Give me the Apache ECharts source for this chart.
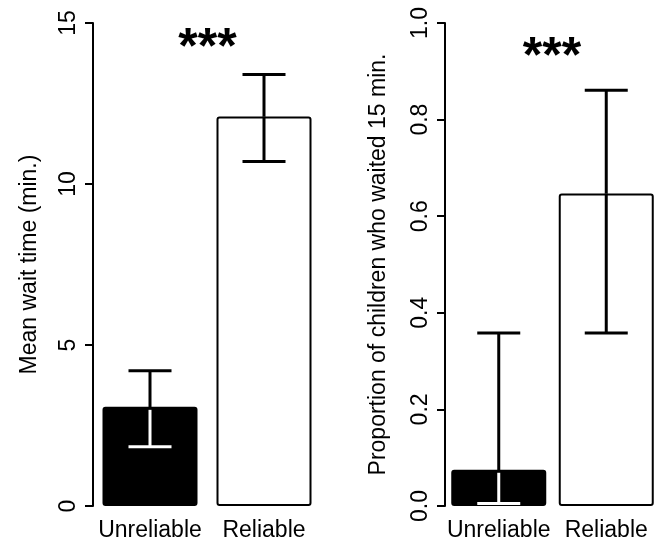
<!DOCTYPE html>
<html>
<head>
<meta charset="utf-8">
<script src="https://cdn.jsdelivr.net/npm/echarts@6/dist/echarts.min.js"></script>
<style>
html,body{margin:0;padding:0;background:#fff;}
#chart{width:655px;height:541px;}
</style>
</head>
<body>
<div id="chart"></div>
<script>
// ---- data ----
const categories = ['Unreliable', 'Reliable'];
const waitMeans = [3.08, 12.1];
const waitLow = [1.84, 10.7];
const waitHigh = [4.2, 13.4];
const propMeans = [0.075, 0.647];
const propLow = [0.005, 0.358];
const propHigh = [0.358, 0.861];
const waitAxis = { min: 0, max: 15, interval: 5 };
const propAxis = { min: 0, max: 1, interval: 0.2 };
const barFills = ['#000000', '#ffffff'];
const sigLabel = '***';
const waitTitle = 'Mean wait time (min.)';
const propTitle = 'Proportion of children who waited 15 min.';

const FONT = '"Liberation Sans", Arial, Helvetica, sans-serif';
const chart = echarts.init(document.getElementById('chart'));

function barData(means) {
  return means.map((v, i) => ({
    value: v,
    itemStyle: { color: barFills[i], borderColor: '#000', borderWidth: 2, borderRadius: 2 }
  }));
}
function errData(means, lo, hi) {
  return means.map((v, i) => [i, v, lo[i], hi[i], barFills[i] === '#000000' ? 1 : 0]);
}
function renderErr(params, api) {
  const xi = api.value(0);
  const m = api.coord([xi, api.value(1)]);
  const lo = api.coord([xi, api.value(2)]);
  const hi = api.coord([xi, api.value(3)]);
  const dark = api.value(4) === 1;
  const hw = 21.5;
  const lowColor = dark ? '#ffffff' : '#000000';
  const lw = 3;
  return {
    type: 'group',
    children: [
      { type: 'line', shape: { x1: m[0], y1: m[1] + (dark ? 3 : 0), x2: lo[0], y2: lo[1] }, style: { stroke: lowColor, lineWidth: lw } },
      { type: 'line', shape: { x1: lo[0] - hw, y1: lo[1], x2: lo[0] + hw, y2: lo[1] }, style: { stroke: lowColor, lineWidth: lw } },
      { type: 'line', shape: { x1: m[0], y1: m[1] + (dark ? 1 : 0), x2: hi[0], y2: hi[1] }, style: { stroke: '#000', lineWidth: lw } },
      { type: 'line', shape: { x1: hi[0] - hw, y1: hi[1], x2: hi[0] + hw, y2: hi[1] }, style: { stroke: '#000', lineWidth: lw } }
    ]
  };
}

const yCommon = {
  type: 'value',
  axisLine: { show: true, lineStyle: { color: '#000', width: 2 } },
  axisTick: { show: true, length: 8, lineStyle: { color: '#000', width: 2 } },
  splitLine: { show: false },
  axisLabel: { rotate: 90, color: '#000', fontSize: 23, fontFamily: FONT, margin: 13 },
  nameLocation: 'middle',
  nameRotate: 90,
  nameTextStyle: { color: '#000', fontSize: 23, fontFamily: FONT }
};
const xCommon = {
  type: 'category',
  data: categories,
  axisLine: { show: false },
  axisTick: { show: false },
  axisLabel: { color: '#000', fontSize: 23, fontFamily: FONT, margin: 13, interval: 0 }
};

chart.setOption({
  animation: false,
  backgroundColor: '#fff',
  grid: [
    { left: 93, top: 23, width: 228, bottom: 35, outerBoundsMode: 'none' },
    { left: 445, top: 23, width: 215, bottom: 35, outerBoundsMode: 'none' }
  ],
  xAxis: [
    Object.assign({}, xCommon, { gridIndex: 0 }),
    Object.assign({}, xCommon, { gridIndex: 1 })
  ],
  yAxis: [
    Object.assign({}, yCommon, { gridIndex: 0, min: waitAxis.min, max: waitAxis.max, interval: waitAxis.interval, name: waitTitle, nameGap: 52 }),
    Object.assign({}, yCommon, { gridIndex: 1, min: propAxis.min, max: propAxis.max, interval: propAxis.interval, name: propTitle, nameGap: 55,
      axisLabel: Object.assign({}, yCommon.axisLabel, { formatter: v => v.toFixed(1) }) })
  ],
  series: [
    { type: 'bar', xAxisIndex: 0, yAxisIndex: 0, barWidth: 95, data: barData(waitMeans) },
    { type: 'bar', xAxisIndex: 1, yAxisIndex: 1, barWidth: 95, data: barData(propMeans) },
    { type: 'custom', xAxisIndex: 0, yAxisIndex: 0, renderItem: renderErr, data: errData(waitMeans, waitLow, waitHigh), z: 5 },
    { type: 'custom', xAxisIndex: 1, yAxisIndex: 1, renderItem: renderErr, data: errData(propMeans, propLow, propHigh), z: 5 }
  ],
  graphic: [
    { type: 'text', x: 207.5, y: 49, style: { text: sigLabel, fill: '#000', font: 'bold 50px ' + FONT, align: 'center', verticalAlign: 'middle' } },
    { type: 'text', x: 552, y: 58, style: { text: sigLabel, fill: '#000', font: 'bold 50px ' + FONT, align: 'center', verticalAlign: 'middle' } }
  ]
});
</script>
</body>
</html>
